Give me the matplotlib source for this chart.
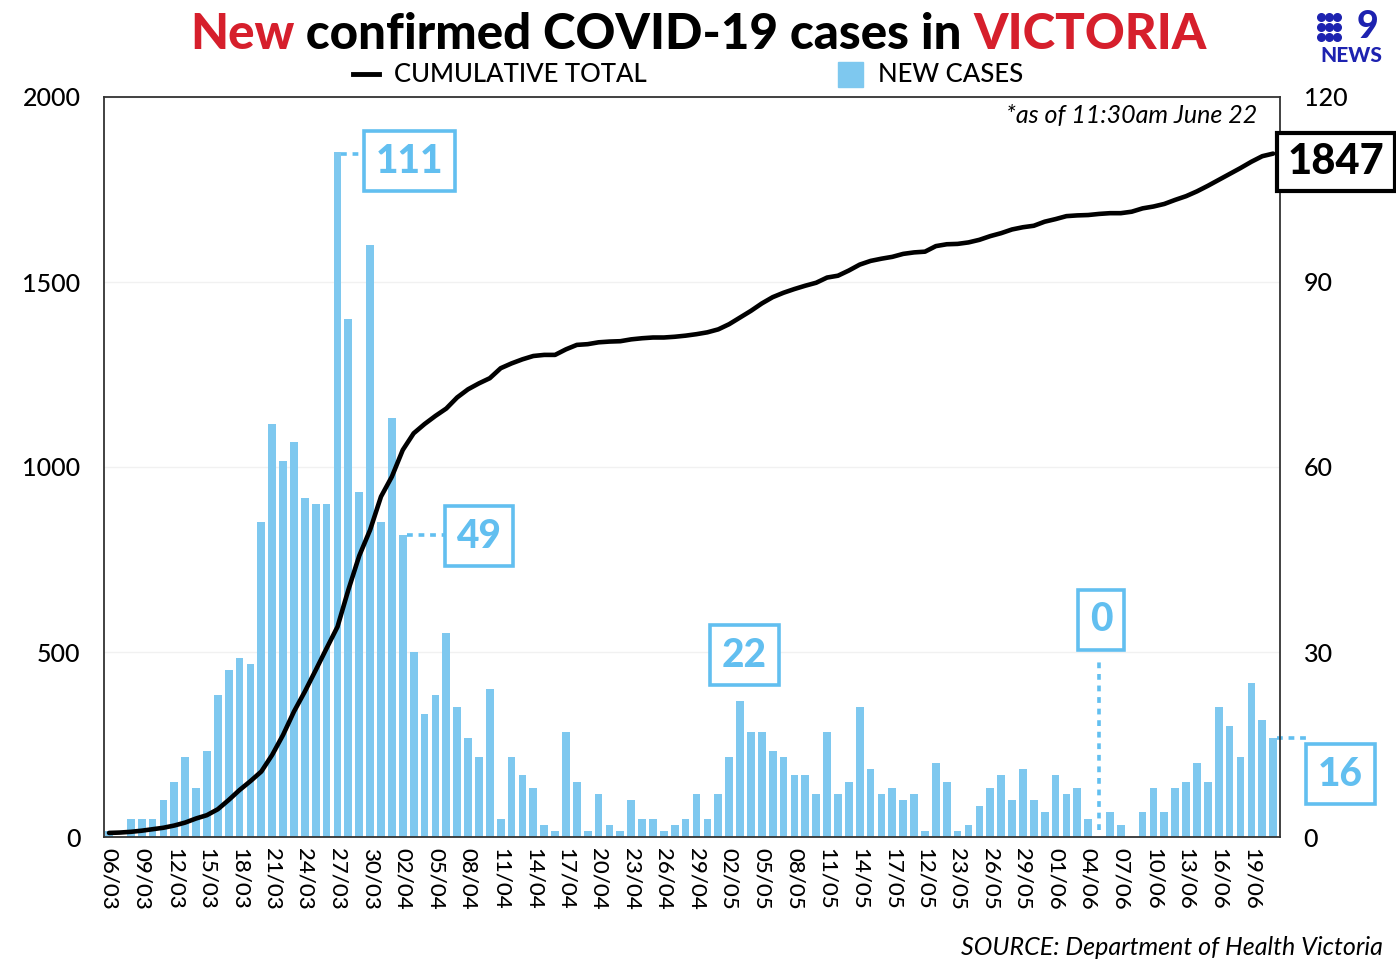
import numpy as np
import matplotlib.pyplot as plt
from matplotlib.lines import Line2D

# DATA (06/03 to 21/06)
new_cases = [1, 0, 3, 3, 3, 6, 9, 13, 8, 14,
             23, 27, 29, 28, 51, 67, 61, 64, 55, 54,
             54, 111, 84, 56, 96, 51, 68, 49, 30, 20,
             23, 33, 21, 16, 13, 24, 3, 13, 10, 8,
             2, 1, 17, 9, 1, 7, 2, 1, 6, 3,
             3, 1, 2, 3, 7, 3, 7, 13, 22, 17,
             17, 14, 13, 10, 10, 7, 17, 7, 9, 21,
             11, 7, 8, 6, 7, 1, 12, 9, 1, 2,
             5, 8, 10, 6, 11, 6, 4, 10, 7, 8,
             3, 0, 4, 2, 0, 4, 8, 4, 8, 9,
             12, 9, 21, 18, 13, 25, 19, 16]

cumulative = [11, 12, 14, 17, 21, 25, 31, 39, 50, 59,
              75, 100, 127, 151, 177, 222, 276, 339, 393, 451,
              510, 568, 668, 760, 830, 920, 974, 1046, 1091, 1116,
              1138, 1158, 1188, 1210, 1226, 1240, 1267, 1280, 1291, 1300,
              1303, 1303, 1318, 1330, 1332, 1337, 1339, 1340, 1345, 1348,
              1350, 1350, 1352, 1355, 1359, 1364, 1372, 1386, 1404, 1422,
              1442, 1459, 1471, 1481, 1490, 1498, 1512, 1517, 1531, 1547,
              1557, 1563, 1568, 1576, 1580, 1582, 1597, 1602, 1603, 1607,
              1614, 1624, 1632, 1642, 1648, 1652, 1663, 1670, 1678, 1680,
              1681, 1684, 1686, 1686, 1690, 1699, 1704, 1711, 1722, 1732,
              1745, 1760, 1776, 1792, 1808, 1825, 1840, 1847]

tick_labels = ['06/03', '09/03', '12/03', '15/03', '18/03', '21/03', '24/03',
               '27/03', '30/03', '02/04', '05/04', '08/04', '11/04', '14/04',
               '17/04', '20/04', '23/04', '26/04', '29/04', '02/05', '05/05',
               '08/05', '11/05', '14/05', '17/05', '12/05', '23/05', '26/05',
               '29/05', '01/06', '04/06', '07/06', '10/06', '13/06', '16/06',
               '19/06']

total_label = '1847'

RED = '#d61f2c'
BLUE = '#62bff0'
BAR = '#7ec8ef'
NAVY = '#1d22b0'
FONT = 'Lato'

W, H = 1396, 963
fig = plt.figure(figsize=(W / 100, H / 100), dpi=100)
fig.patch.set_facecolor('white')

def px(x, y):
    return x / W, 1 - y / H

days = np.arange(len(new_cases))

# line axis (left) on top of bar axis (right)
ax = fig.add_axes([104 / W, 1 - 837 / H, (1280 - 104) / W, (837 - 97) / H])
ax2 = ax.twinx()
ax.set_zorder(2)
ax2.set_zorder(1)
ax.patch.set_visible(False)

ax2.bar(days, new_cases, width=0.71, color=BAR, zorder=2)
ax2.set_ylim(0, 120)
ax2.set_yticks([0, 30, 60, 90, 120])
ax2.grid(axis='y', color='#f1f1f1', lw=1)
ax2.set_axisbelow(True)
for s in ax2.spines.values():
    s.set_visible(False)

ax.plot(days, cumulative, color='black', lw=3.3, solid_capstyle='round', zorder=3)
ax.set_ylim(0, 2000)
ax.set_yticks([0, 500, 1000, 1500, 2000])
ax.set_xlim(-0.46, 107.63)
ax.set_xticks(np.arange(0, len(new_cases), 3))
ax.set_xticklabels(tick_labels, rotation=-90, fontfamily=FONT, fontsize=16,
                   fontweight='medium')
for s in ax.spines.values():
    s.set_color('#333333')
    s.set_linewidth(1.3)

ax.tick_params(axis='y', length=0, pad=17, labelsize=18)
ax2.tick_params(axis='y', length=0, pad=17, labelsize=18)
ax.tick_params(axis='x', length=0, pad=8)
for lab in ax.get_yticklabels() + ax2.get_yticklabels():
    lab.set_fontfamily(FONT)
    lab.set_fontweight('medium')

# callouts
box = dict(boxstyle='square,pad=0.3', fc='white', ec=BLUE, lw=2.6)
dash = dict(color=BLUE, lw=2.6, ls=(0, (1.6, 1.6)), clip_on=False, zorder=4)
kw = dict(ha='center', va='center', fontsize=28, fontweight='black',
          color=BLUE, fontfamily=FONT, bbox=box, clip_on=False, zorder=5)

ax2.plot([21.36, 24.7], [110.8, 110.8], **dash)
ax2.text(27.6, 109.6, str(new_cases[21]), **kw)
ax2.plot([27.36, 30.9], [49, 49], **dash)
ax2.text(34.0, 48.8, str(new_cases[27]), **kw)
ax2.text(58.4, 29.5, str(new_cases[58]), **kw)
ax2.plot([91, 91], [1.1, 28.6], **dash)
ax2.text(91.2, 35.2, str(new_cases[91]), **kw)
ax2.plot([107.36, 110.4], [16, 16], **dash)
ax2.text(113.2, 10.2, str(new_cases[107]), **kw)

# total box
fig.text(*px(1336, 162), total_label, ha='center', va='center', fontsize=30,
         fontweight='black', fontfamily=FONT,
         bbox=dict(boxstyle='square,pad=0.25', fc='white', ec='black', lw=3))

# title in three colours
TS = 35.5
tkw = dict(fontsize=TS, fontweight='black', fontfamily=FONT)
t1 = fig.text(*px(190, 49), 'New', color=RED, va='baseline', **tkw)
t2 = ax.annotate(' confirmed COVID-19 cases in ', xy=(1, 0), xycoords=t1,
                 va='bottom', ha='left', color='black',
                 annotation_clip=False, **tkw)
ax.annotate('VICTORIA', xy=(1, 0), xycoords=t2, va='bottom', ha='left',
            color=RED, annotation_clip=False, **tkw)

# legend
handles = [Line2D([], [], color='black', lw=3.5),
           Line2D([], [], color=BAR, marker='s', ls='', ms=18)]
fig.legend(handles, ['CUMULATIVE TOTAL', 'NEW CASES'], loc='center',
           bbox_to_anchor=px(688, 75), ncol=2, frameon=False,
           prop={'family': FONT, 'size': 18.5, 'weight': 'medium'},
           handlelength=1.0, handletextpad=0.6, columnspacing=7.4)

fig.text(*px(1257, 115), '*as of 11:30am June 22', ha='right', va='center',
         fontsize=18, style='italic', fontfamily=FONT)
fig.text(*px(1383, 947), 'SOURCE: Department of Health Victoria', ha='right',
         va='center', fontsize=18, style='italic', fontfamily=FONT)

# 9 NEWS logo
lax = fig.add_axes([1316 / W, 1 - 64 / H, 70 / W, 54 / H])
lax.set_xlim(0, 70)
lax.set_ylim(54, 0)
lax.axis('off')
gx, gy = np.meshgrid([5, 13, 21], [7, 17, 27])
lax.scatter(gx.ravel(), gy.ravel(), s=30, color=NAVY)
lax.text(51, 28, '9', ha='center', va='baseline', fontsize=27,
         fontweight='black', color=NAVY, fontfamily=FONT)
lax.text(35, 52, 'NEWS', ha='center', va='baseline', fontsize=15,
         fontweight='black', color=NAVY, fontfamily=FONT)

fig.savefig('out.png', dpi=100)
